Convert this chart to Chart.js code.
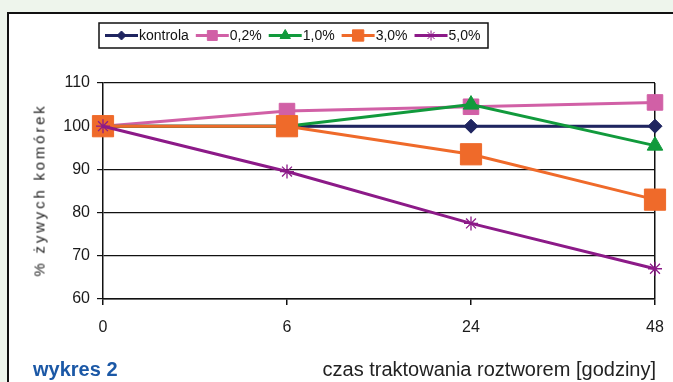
<!DOCTYPE html>
<html>
<head>
<meta charset="utf-8">
<script src="https://cdn.jsdelivr.net/npm/chart.js@4.4.1/dist/chart.umd.min.js"></script>
<style>
  body { margin: 0; background: #eef5ec; width: 673px; height: 382px; overflow: hidden; position: relative; font-family: "Liberation Sans", Arial, sans-serif; }
  #frame { position: absolute; left: 7px; top: 12px; width: 720px; height: 420px; background: #fff; border-left: 2px solid #111; border-top: 2px solid #111; }
  #wykres { position: absolute; left: 33px; top: 358px; font-weight: bold; font-size: 20px; color: #1b58a6; }
  #xtitle { position: absolute; right: 17px; top: 358px; font-size: 20px; color: #222; }
  #ytitle { position: absolute; left: 39px; top: 190px; font-size: 15px; color: #222; letter-spacing: 2.8px; transform: translate(-50%, -50%) rotate(-90deg); white-space: nowrap; }
  canvas { position: absolute; left: 0; top: 0; }
</style>
</head>
<body>
<div id="frame"></div>
<canvas id="wykres2" width="673" height="382"></canvas>
<div id="ytitle">% żywych komórek</div>
<div id="wykres">wykres 2</div>
<div id="xtitle">czas traktowania roztworem [godziny]</div>
<script>
// dane
var godziny = ["0", "6", "24", "48"];
var kontrola = [100, 100, 100, 100];
var stez02 = [100, 103.5, 104.5, 105.5];
var stez10 = [100, 100, 105, 95.5];
var stez30 = [100, 100, 93.5, 83];
var stez50 = [100, 89.5, 77.5, 67];

var serie = [
  { label: "kontrola", data: kontrola, color: "#1f2560", style: "rectRot", r: 7, lr: 4.5, order: 4 },
  { label: "0,2%", data: stez02, color: "#d160a6", style: "rect", r: 11, lr: 7, order: 3 },
  { label: "1,0%", data: stez10, color: "#119a3c", style: "triangle", r: 9, lr: 6, order: 2 },
  { label: "3,0%", data: stez30, color: "#ef6a2a", style: "rect", r: 15, lr: 8, order: 1 },
  { label: "5,0%", data: stez50, color: "#8c1a88", style: "star", r: 7, lr: 5, order: 0 }
];

// legenda: linia + znacznik jak w Excelu
const legendaExcel = {
  id: "legendaExcel",
  afterDraw(chart) {
    const ctx = chart.ctx;
    const x0 = 99, y0 = 23, w = 389, h = 25;
    ctx.save();
    ctx.fillStyle = "#fff";
    ctx.fillRect(x0, y0, w, h);
    ctx.strokeStyle = "#111";
    ctx.lineWidth = 1.5;
    ctx.strokeRect(x0, y0, w, h);
    ctx.font = "14px 'Liberation Sans', Arial, sans-serif";
    ctx.textBaseline = "middle";
    let x = x0 + 6;
    const cy = y0 + h / 2;
    serie.forEach((s) => {
      ctx.strokeStyle = s.color;
      ctx.lineWidth = 3;
      ctx.beginPath();
      ctx.moveTo(x, cy);
      ctx.lineTo(x + 33, cy);
      ctx.stroke();
      ctx.fillStyle = s.color;
      ctx.lineWidth = 1;
      Chart.helpers.drawPoint(ctx, { pointStyle: s.style, radius: s.lr, borderWidth: 1, rotation: 0 }, x + 16.5, cy);
      ctx.fillStyle = "#111";
      ctx.fillText(s.label, x + 34, cy + 1);
      x += 34 + ctx.measureText(s.label).width + 7;
    });
    ctx.restore();
  }
};

const ctx = document.getElementById("wykres2").getContext("2d");
let myChart = new Chart(ctx, {
  type: "line",
  data: {
    labels: godziny,
    datasets: serie.map((s) => ({
      label: s.label,
      data: s.data,
      borderColor: s.color,
      backgroundColor: s.color,
      borderWidth: 3,
      pointStyle: s.style,
      pointRadius: s.r,
      pointHoverRadius: s.r,
      pointBorderWidth: s.style === "star" ? 1.3 : 1,
      tension: 0,
      order: s.order
    }))
  },
  options: {
    responsive: false,
    animation: false,
    devicePixelRatio: 1,
    layout: { padding: { left: 8, right: 18, top: 83, bottom: 23 } },
    plugins: {
      legend: { display: false },
      tooltip: { enabled: false }
    },
    scales: {
      x: {
        offset: false,
        border: { color: "#111", width: 1.5 },
        grid: {
          color: (c) => (c.index === godziny.length - 1 ? "#111" : "rgba(0,0,0,0)"),
          tickColor: "#111",
          tickLength: 6,
          lineWidth: 1.5
        },
        ticks: { color: "#1a1a1a", font: { size: 16, family: "'Liberation Sans', Arial" }, padding: 13, maxRotation: 0 },
        afterFit: (scale) => {
          scale.height = 60;
          scale.paddingLeft = 0;
          scale.paddingRight = 0;
        }
      },
      y: {
        min: 60,
        max: 110,
        border: { color: "#111", width: 1.5 },
        grid: { color: "#111", tickColor: "#111", tickLength: 6, lineWidth: 1.2 },
        ticks: { stepSize: 10, color: "#1a1a1a", font: { size: 16, family: "'Liberation Sans', Arial" }, padding: 7 },
        afterFit: (scale) => { scale.width = 95; }
      }
    }
  },
  plugins: [legendaExcel]
});
</script>
</body>
</html>
